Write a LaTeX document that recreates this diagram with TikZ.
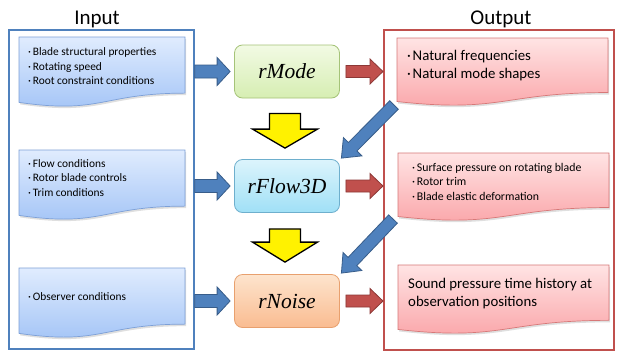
\documentclass[tikz,border=0pt]{standalone}
\usepackage{fontspec}
\setmainfont{Carlito}
\newfontfamily\procfont{Liberation Serif}
\usetikzlibrary{calc,shadows}

\definecolor{inblue}{RGB}{79,129,189}
\definecolor{inbluedark}{RGB}{56,93,138}
\definecolor{outred}{RGB}{192,80,77}
\definecolor{outreddark}{RGB}{140,56,54}
\definecolor{bdoctop}{RGB}{224,236,254}
\definecolor{bdocbot}{RGB}{160,194,246}
\definecolor{bdocline}{RGB}{125,160,215}
\definecolor{rdoctop}{RGB}{255,228,228}
\definecolor{rdocbot}{RGB}{250,162,166}
\definecolor{rdocline}{RGB}{215,120,120}
\definecolor{gtop}{RGB}{242,250,228}
\definecolor{gbot}{RGB}{214,238,178}
\definecolor{gline}{RGB}{165,195,120}
\definecolor{ctop}{RGB}{220,244,252}
\definecolor{cbot}{RGB}{160,224,246}
\definecolor{cline}{RGB}{110,175,205}
\definecolor{otop}{RGB}{253,228,205}
\definecolor{obot}{RGB}{250,188,145}
\definecolor{oline}{RGB}{232,160,110}

\newcommand{\bul}{·\hspace{1.8pt}}

% document shape: #1 name, #2 x, #3 y, #4 w, #5 h, #6 style
\newcommand{\docbox}[6]{%
  \path[#6] (#2,#3) -- ({#2+#4},#3) -- ({#2+#4},{#3+0.802*#5})
    .. controls ({#2+0.5*#4},{#3+0.802*#5}) and ({#2+0.5*#4},{#3+1.107*#5}) .. (#2,{#3+0.934*#5}) -- cycle;
  \node[name=#1, anchor=north west, minimum width=#4pt, minimum height=#5pt, inner sep=0pt] at (#2,#3) {};
}

% block arrow: #1 style, #2 from, #3 to, #4 shaft half width, #5 head half width, #6 head length
\newcommand{\blockarrow}[6]{%
  \coordinate (bah) at ($(#3)!#6pt!(#2)$);
  \path[#1] ($(#2)!#4pt!90:(#3)$) -- ($(bah)!#4pt!-90:(#2)$) -- ($(bah)!#5pt!-90:(#2)$) -- (#3)
    -- ($(bah)!#5pt!90:(#2)$) -- ($(bah)!#4pt!90:(#2)$) -- ($(#2)!#4pt!-90:(#3)$) -- cycle;
}

\begin{document}
\begin{tikzpicture}[x=1pt,y=-1pt,
  frame/.style={line width=1.8pt, anchor=north west, inner sep=0pt},
  title/.style={font=\fontsize{21}{25}\selectfont, anchor=base, inner sep=0pt},
  bdoc/.style={draw=bdocline, line width=0.7pt, top color=bdoctop, bottom color=bdocbot,
    drop shadow={shadow xshift=1pt, shadow yshift=-2pt, opacity=0.25}},
  rdoc/.style={draw=rdocline, line width=0.7pt, top color=rdoctop, bottom color=rdocbot,
    drop shadow={shadow xshift=1pt, shadow yshift=-2pt, opacity=0.25}},
  smalltext/.style={font=\fontsize{11.4}{14.5}\selectfont, align=left, anchor=west, inner sep=0pt},
  bigtext/.style={font=\fontsize{14.8}{18}\selectfont, align=left, anchor=west, inner sep=0pt},
  proc/.style={rounded corners=8pt, minimum width=105pt, minimum height=53pt, line width=0.8pt,
    font=\procfont\itshape\fontsize{21.5}{25}\selectfont},
  bluearrow/.style={fill=inblue, draw=inbluedark, line width=0.8pt},
  redarrow/.style={fill=outred, draw=outreddark, line width=0.8pt},
  yellowarrow/.style={fill=yellow, draw=black, line width=1.3pt, line join=miter}
]
\useasboundingbox (0,0) rectangle (617,351);
\fill[white] (0,0) rectangle (617,351);

% frames and titles
\node[frame, draw=inblue, minimum width=185pt, minimum height=319pt] (inbox) at (8,29) {};
\node[frame, draw=outred, minimum width=230pt, minimum height=320pt] (outbox) at (383,29) {};
\node[title] (inlabel) at (97,24) {Input};
\node[title] (outlabel) at (501,24) {Output};

% input documents
\docbox{in1}{19}{37}{166}{70}{bdoc}
\docbox{in2}{19}{150}{166}{70}{bdoc}
\docbox{in3}{19}{268}{166}{70}{bdoc}
\node[smalltext] (in1t) at (28,66.5) {\bul Blade structural properties\\\bul Rotating speed\\\bul Root constraint conditions};
\node[smalltext] (in2t) at (28,178) {\bul Flow conditions\\\bul Rotor blade controls\\\bul Trim conditions};
\node[smalltext] (in3t) at (28,297) {\bul Observer conditions};

% process nodes
\node[proc, top color=gtop, bottom color=gbot, draw=gline] (rmode) at (287,71.5) {rMode};
\node[proc, top color=ctop, bottom color=cbot, draw=cline] (rflow) at (287,186) {rFlow3D};
\node[proc, top color=otop, bottom color=obot, draw=oline] (rnoise) at (287,301) {rNoise};

% feedback arrows (behind output documents)
\coordinate (fb1s) at (394,105);
\coordinate (fb1t) at ($(rflow.north east)+(1.5,-1)$);
\blockarrow{bluearrow}{fb1s}{fb1t}{6}{13}{16}
\coordinate (fb2s) at (393,219);
\coordinate (fb2t) at ($(rnoise.north east)+(1.5,-1)$);
\blockarrow{bluearrow}{fb2s}{fb2t}{6}{13}{16}

% output documents
\docbox{out1}{397}{38}{211}{68}{rdoc}
\docbox{out2}{398}{153}{211}{68}{rdoc}
\docbox{out3}{398}{265}{211}{69}{rdoc}
\node[bigtext] (out1t) at (407,66) {\bul Natural frequencies\\\bul Natural mode shapes};
\node[smalltext, font=\fontsize{11.8}{14.5}\selectfont] (out2t) at (412,181.5) {\bul Surface pressure on rotating blade\\\bul Rotor trim\\\bul Blade elastic deformation};
\node[bigtext] (out3t) at (408,294) {Sound pressure time history at\\observation positions};

% input arrows
\coordinate (ia1) at (inbox.east |- rmode.west);
\coordinate (ia1t) at ($(rmode.west)+(-4,0)$);
\blockarrow{bluearrow}{ia1}{ia1t}{6.5}{14}{13}
\coordinate (ia2) at (inbox.east |- rflow.west);
\coordinate (ia2t) at ($(rflow.west)+(-4,0)$);
\blockarrow{bluearrow}{ia2}{ia2t}{6.5}{14}{13}
\coordinate (ia3) at (inbox.east |- rnoise.west);
\coordinate (ia3t) at ($(rnoise.west)+(-4,0)$);
\blockarrow{bluearrow}{ia3}{ia3t}{6.5}{14}{13}

% output arrows
\coordinate (oa1) at ($(rmode.east)+(6,0)$);
\coordinate (oa1t) at (outbox.west |- rmode.east);
\blockarrow{redarrow}{oa1}{oa1t}{6}{12.5}{13}
\coordinate (oa2) at ($(rflow.east)+(6,0)$);
\coordinate (oa2t) at (outbox.west |- rflow.east);
\blockarrow{redarrow}{oa2}{oa2t}{6}{12.5}{13}
\coordinate (oa3) at ($(rnoise.east)+(6,0)$);
\coordinate (oa3t) at (outbox.west |- rnoise.east);
\blockarrow{redarrow}{oa3}{oa3t}{6}{12.5}{13}

% yellow arrows
\coordinate (ya1) at ($(rmode.south)+(-2,15)$);
\coordinate (ya1t) at ($(rflow.north)+(-2,-11)$);
\blockarrow{yellowarrow}{ya1}{ya1t}{15.5}{32.5}{19}
\coordinate (ya2) at ($(rflow.south)+(-2,16)$);
\coordinate (ya2t) at ($(rnoise.north)+(-2,-12)$);
\blockarrow{yellowarrow}{ya2}{ya2t}{15.5}{32.5}{20}
\end{tikzpicture}
\end{document}
